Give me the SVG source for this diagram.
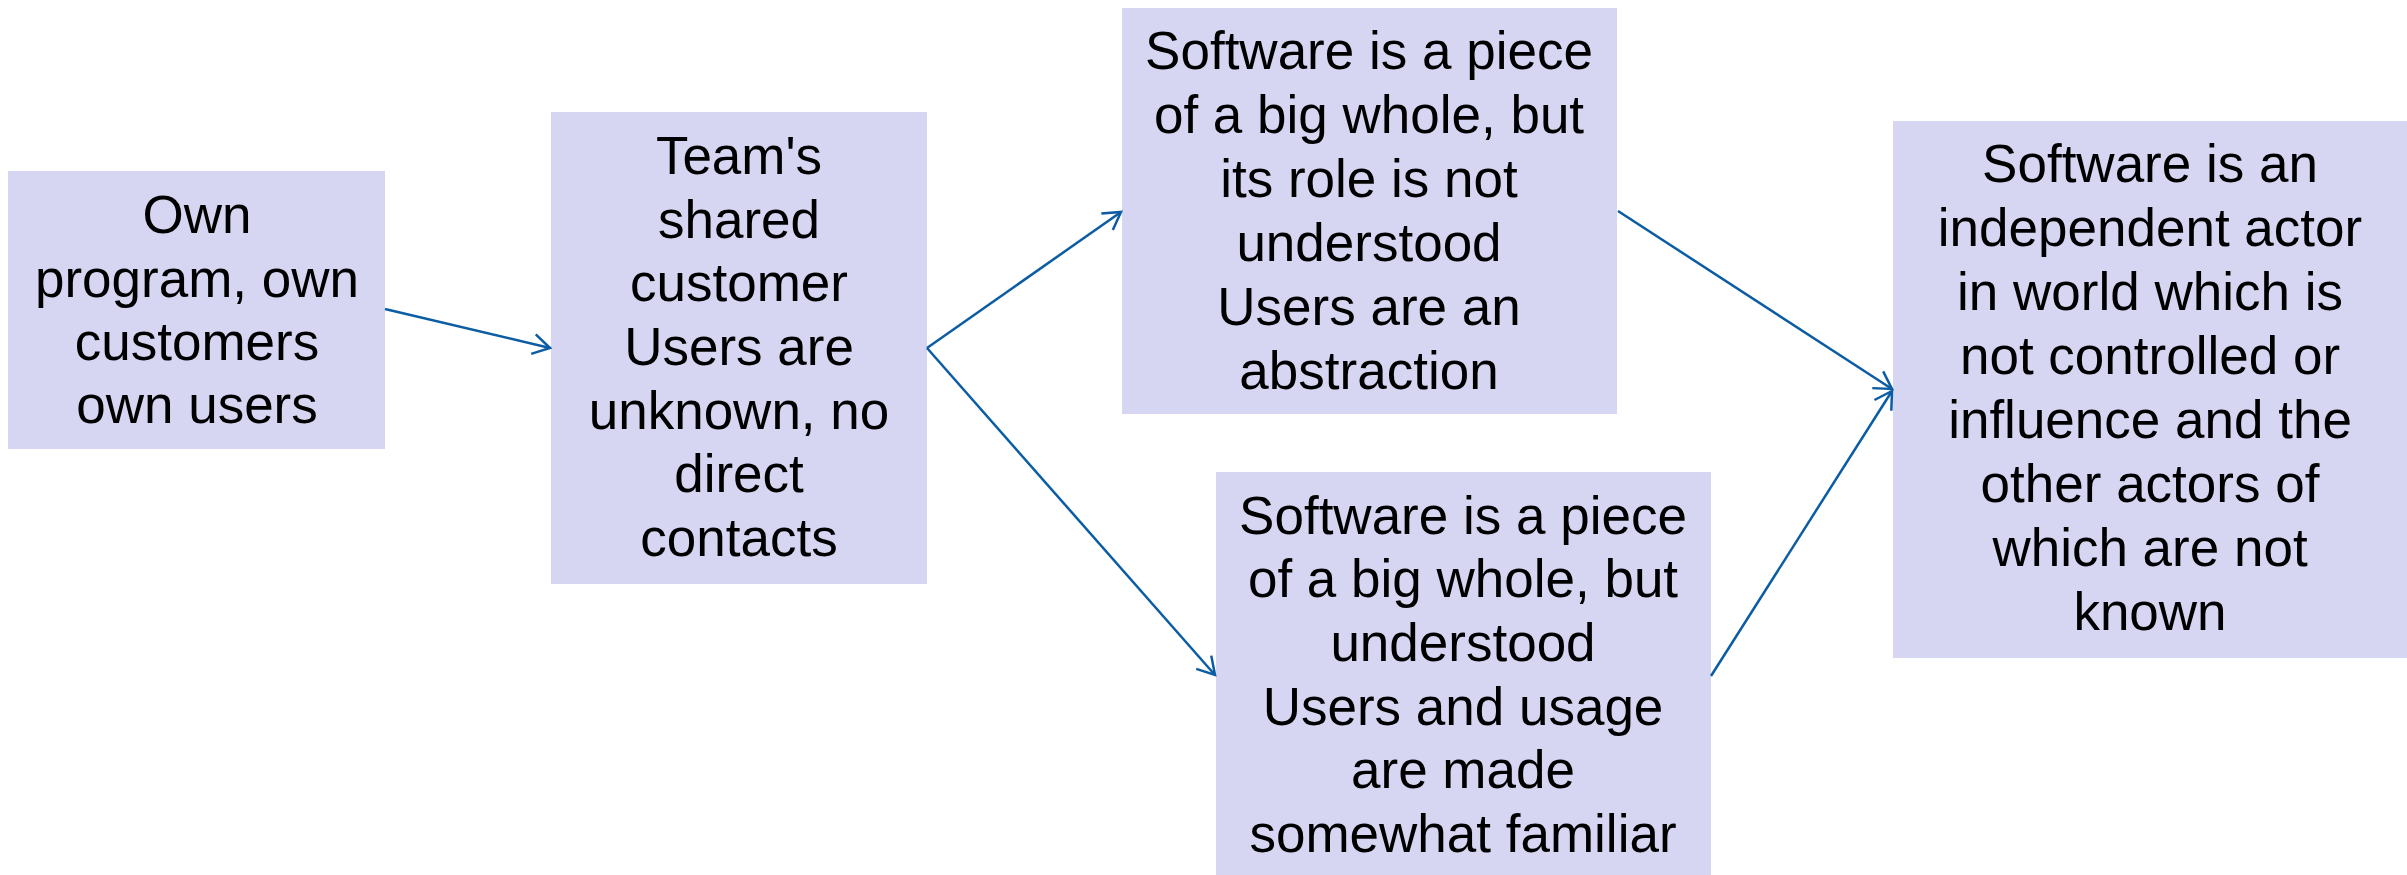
<svg xmlns="http://www.w3.org/2000/svg" width="2407" height="875" viewBox="0 0 2407 875">
<style>
.box{fill:#D6D6F3;}
.t{font-family:"Liberation Sans",Arial,sans-serif;font-size:53px;fill:#000;text-anchor:middle;}
.c{stroke:#0B5CA3;stroke-width:2.5;fill:none;marker-end:url(#ah);}
</style>
<defs>
<marker id="ah" markerUnits="userSpaceOnUse" markerWidth="26" markerHeight="26" viewBox="-22 -13 26 26" refX="0" refY="0" orient="auto">
<path d="M-17,-10 L0,0 L-17,10" fill="none" stroke="#0B5CA3" stroke-width="2.5" stroke-linejoin="miter"/>
</marker>
</defs>
<rect width="2407" height="875" fill="#fff"/>
<g id="n1">
<rect class="box" x="8" y="171" width="377" height="278"/>
<text class="t"><tspan x="197" y="233">Own</tspan><tspan x="197" y="297">program, own</tspan><tspan x="197" y="360">customers</tspan><tspan x="197" y="423">own users</tspan></text>
</g>
<g id="n2">
<rect class="box" x="551" y="112" width="376" height="472"/>
<text class="t"><tspan x="739" y="174">Team's</tspan><tspan x="739" y="238">shared</tspan><tspan x="739" y="301">customer</tspan><tspan x="739" y="365">Users are</tspan><tspan x="739" y="429">unknown, no</tspan><tspan x="739" y="492">direct</tspan><tspan x="739" y="556">contacts</tspan></text>
</g>
<g id="n3">
<rect class="box" x="1122" y="8" width="495" height="406"/>
<text class="t"><tspan x="1369" y="69">Software is a piece</tspan><tspan x="1369" y="133">of a big whole, but</tspan><tspan x="1369" y="197">its role is not</tspan><tspan x="1369" y="261">understood</tspan><tspan x="1369" y="325">Users are an</tspan><tspan x="1369" y="389">abstraction</tspan></text>
</g>
<g id="n4">
<rect class="box" x="1216" y="472" width="495" height="403"/>
<text class="t"><tspan x="1463" y="534">Software is a piece</tspan><tspan x="1463" y="597">of a big whole, but</tspan><tspan x="1463" y="661">understood</tspan><tspan x="1463" y="725">Users and usage</tspan><tspan x="1463" y="788">are made</tspan><tspan x="1463" y="852">somewhat familiar</tspan></text>
</g>
<g id="n5">
<rect class="box" x="1893" y="121" width="514" height="537"/>
<text class="t"><tspan x="2150" y="182">Software is an</tspan><tspan x="2150" y="246">independent actor</tspan><tspan x="2150" y="310">in world which is</tspan><tspan x="2150" y="374">not controlled or</tspan><tspan x="2150" y="438">influence and the</tspan><tspan x="2150" y="502">other actors of</tspan><tspan x="2150" y="566">which are not</tspan><tspan x="2150" y="630">known</tspan></text>
</g>
<g id="connectors">
<line class="c" x1="385" y1="309" x2="550" y2="348"/>
<line class="c" x1="927" y1="348" x2="1121" y2="212"/>
<line class="c" x1="927" y1="348" x2="1215" y2="675"/>
<line class="c" x1="1618" y1="211" x2="1892" y2="389"/>
<line class="c" x1="1711" y1="676" x2="1892" y2="391"/>
</g>
</svg>
